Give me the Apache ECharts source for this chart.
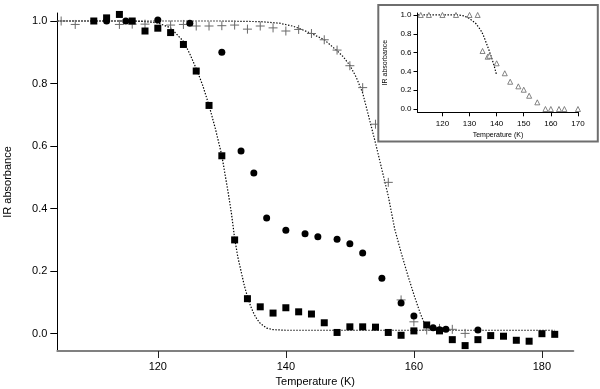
<!DOCTYPE html>
<html>
<head>
<meta charset="utf-8">
<script src="https://cdn.jsdelivr.net/npm/echarts@6/dist/echarts.min.js"></script>
<style>
html,body{margin:0;padding:0;background:#fff;}
#chart{width:600px;height:389px;}
</style>
</head>
<body>
<div id="chart"></div>
<script>
// ---- main plot data ----
const squareT = [110,112,114,116,118,120,122,124,126,128,130,132,134,136,138,140,142,144,146,148,150,152,154,156,158,160,162,164,166,168,170,172,174,176,178,180,182];
const squareV = [1.0,1.01,1.021,1.0,0.968,0.977,0.963,0.925,0.84,0.73,0.569,0.30,0.112,0.086,0.066,0.083,0.07,0.063,0.035,0.004,0.022,0.022,0.021,0.004,-0.005,0.009,0.028,0.009,-0.019,-0.038,-0.019,-0.006,-0.008,-0.021,-0.024,0.0,-0.002];

const circleT = [112,115,120,125,130,133,135,137,140,143,145,148,150,152,155,158,160,163,164,165,170];
const circleV = [1.0,1.0,1.003,0.993,0.90,0.584,0.514,0.37,0.331,0.32,0.31,0.302,0.288,0.258,0.177,0.098,0.057,0.019,0.013,0.014,0.012];

const plusT = [104.9,107.1,114,116,118,122,124,126,128,130,132,134,136,138,140,142,144,146,148,150,152,154,156,158,160,162,164,166,168];
const plusV = [1.0,0.989,0.989,0.99,0.99,0.987,0.989,0.984,0.984,0.985,0.987,0.974,0.984,0.978,0.968,0.973,0.96,0.94,0.907,0.857,0.787,0.67,0.484,0.108,0.038,0.012,0.017,0.014,0.001];

// dotted fit curves
const fitAT = [104.3,110,116,118,120,122,124,125,126,127,128,129,130,130.5,131,131.5,132,132.5,133,133.5,134,134.5,135,135.5,136,137,138,140,160,182];
const fitAV = [1.0,1.0,1.0,0.998,0.994,0.978,0.935,0.895,0.848,0.795,0.73,0.655,0.57,0.51,0.45,0.385,0.305,0.245,0.2,0.155,0.118,0.088,0.064,0.046,0.033,0.018,0.013,0.011,0.011,0.011];

const fitBT = [104.3,130,136,139,141,142,144,146,148,149,150,151,152,153,154,155,156,157,158,159,160,160.5,161,161.5,162,163,164];
const fitBV = [1.0,1.0,0.998,0.993,0.984,0.977,0.96,0.94,0.905,0.885,0.858,0.82,0.77,0.69,0.61,0.525,0.44,0.335,0.26,0.19,0.125,0.095,0.065,0.04,0.022,0.013,0.011];

const mainXTicks = [120,140,160,180];
const mainYTicks = [0.0,0.2,0.4,0.6,0.8,1.0];

// ---- inset data ----
const triT = [112,115,120,125,130,133,134.8,136.7,137.3,140,143,145,148,150,152,155,158,160,163,165,170];
const triV = [1.0,1.0,1.0,1.0,1.0,1.0,0.617,0.556,0.566,0.486,0.38,0.29,0.241,0.205,0.141,0.071,0.0,0.0,0.0,0.0,0.0];

const fitCT = [110.8,126,128,129.8,131,132.3,134.1,135,136,137,137.8,139,140];
const fitCV = [1.0,1.0,0.99,0.965,0.94,0.91,0.84,0.79,0.716,0.64,0.574,0.468,0.36];

const insetXTicks = [120,130,140,150,160,170];
const insetYTicks = [0.0,0.2,0.4,0.6,0.8,1.0];

const zip = (a, b) => a.map((v, i) => [v, b[i]]);
const FONT = 'Liberation Sans, Arial, Helvetica, sans-serif';
const fmt1 = v => Number(v).toFixed(1);
const DOT = [1.4, 1.6];

const chart = echarts.init(document.getElementById('chart'), null, {renderer: 'canvas'});

const option = {
  backgroundColor: '#fff',
  animation: false,
  textStyle: {fontFamily: FONT},
  grid: [
    {left: 57.3, top: 13, width: 516, height: 338, containLabel: false, outerBoundsMode: 'none', show: false},
    {left: 417.5, top: 13, width: 161, height: 99.3, containLabel: false, outerBoundsMode: 'none', show: false}
  ],
  xAxis: [
    {
      type: 'value', gridIndex: 0, min: 104.3, max: 184.9,
      name: 'Temperature (K)', nameLocation: 'middle', nameGap: 23,
      nameTextStyle: {color: '#000', fontSize: 11, fontFamily: FONT},
      axisLine: {show: true, onZero: false, lineStyle: {color: '#808080', width: 2}},
      axisTick: {show: true, inside: false, length: 7, lineStyle: {color: '#222', width: 1}, customValues: mainXTicks},
      axisLabel: {show: true, color: '#000', fontSize: 11, fontFamily: FONT, margin: 10, customValues: mainXTicks, formatter: v => String(v)},
      splitLine: {show: false}
    },
    {
      type: 'value', gridIndex: 1, min: 110.8, max: 170.2, z: 60,
      name: 'Temperature (K)', nameLocation: 'middle', nameGap: 19,
      nameTextStyle: {color: '#000', fontSize: 7, fontFamily: FONT},
      axisLine: {show: true, onZero: false, lineStyle: {color: '#000', width: 1}},
      axisTick: {show: true, inside: false, length: 4, lineStyle: {color: '#000', width: 1}, customValues: insetXTicks},
      axisLabel: {show: true, color: '#000', fontSize: 8, fontFamily: FONT, margin: 7, customValues: insetXTicks, formatter: v => String(v)},
      splitLine: {show: false}
    }
  ],
  yAxis: [
    {
      type: 'value', gridIndex: 0, min: -0.0553, max: 1.0256,
      name: 'IR absorbance', nameLocation: 'middle', nameGap: 44, nameRotate: 90,
      nameTextStyle: {color: '#000', fontSize: 11, fontFamily: FONT},
      axisLine: {show: true, onZero: false, lineStyle: {color: '#000', width: 1}},
      axisTick: {show: true, inside: false, length: 7, lineStyle: {color: '#000', width: 1}, customValues: mainYTicks},
      axisLabel: {show: true, color: '#000', fontSize: 11, fontFamily: FONT, margin: 10, customValues: mainYTicks, formatter: fmt1},
      splitLine: {show: false}
    },
    {
      type: 'value', gridIndex: 1, min: -0.035, max: 1.021, z: 60,
      name: 'IR absorbance', nameLocation: 'middle', nameGap: 29, nameRotate: 90,
      nameTextStyle: {color: '#000', fontSize: 7, fontFamily: FONT},
      axisLine: {show: true, onZero: false, lineStyle: {color: '#000', width: 1}},
      axisTick: {show: true, inside: false, length: 4, lineStyle: {color: '#000', width: 1}, customValues: insetYTicks},
      axisLabel: {show: true, color: '#000', fontSize: 8, fontFamily: FONT, margin: 6, customValues: insetYTicks, formatter: fmt1},
      splitLine: {show: false}
    }
  ],
  graphic: [
    {
      type: 'rect', z: 50, silent: true,
      shape: {x: 378.3, y: 5, width: 219.5, height: 136.5},
      style: {fill: '#fff', stroke: '#6e6e6e', lineWidth: 2}
    }
  ],
  series: [
    {
      type: 'line', xAxisIndex: 0, yAxisIndex: 0, data: zip(fitAT, fitAV),
      showSymbol: false, symbol: 'none', smooth: false, z: 3,
      lineStyle: {color: '#000', width: 1.2, type: DOT, opacity: 1}
    },
    {
      type: 'line', xAxisIndex: 0, yAxisIndex: 0, data: zip(fitBT, fitBV),
      showSymbol: false, symbol: 'none', smooth: false, z: 3,
      lineStyle: {color: '#111', width: 1.2, type: DOT, opacity: 1}
    },
    {
      type: 'scatter', xAxisIndex: 0, yAxisIndex: 0, data: zip(plusT, plusV),
      symbol: 'path://M5,0L5,10M0,5L10,5', symbolSize: 9, z: 4,
      itemStyle: {color: 'none', borderColor: '#6a6a6a', borderWidth: 1, opacity: 1}
    },
    {
      type: 'scatter', xAxisIndex: 0, yAxisIndex: 0, data: zip(circleT, circleV),
      symbol: 'circle', symbolSize: 7, z: 5,
      itemStyle: {color: '#000', opacity: 1}
    },
    {
      type: 'scatter', xAxisIndex: 0, yAxisIndex: 0, data: zip(squareT, squareV),
      symbol: 'rect', symbolSize: 7, z: 6,
      itemStyle: {color: '#000', opacity: 1}
    },
    {
      type: 'line', xAxisIndex: 1, yAxisIndex: 1, data: zip(fitCT, fitCV),
      showSymbol: false, symbol: 'none', smooth: false, z: 70,
      lineStyle: {color: '#000', width: 1.2, type: DOT, opacity: 1}
    },
    {
      type: 'scatter', xAxisIndex: 1, yAxisIndex: 1, data: zip(triT, triV),
      symbol: 'triangle', symbolSize: 5, z: 71,
      itemStyle: {color: '#fff', borderColor: '#666', borderWidth: 0.8, opacity: 1}
    }
  ]
};
chart.setOption(option);
</script>
</body>
</html>
